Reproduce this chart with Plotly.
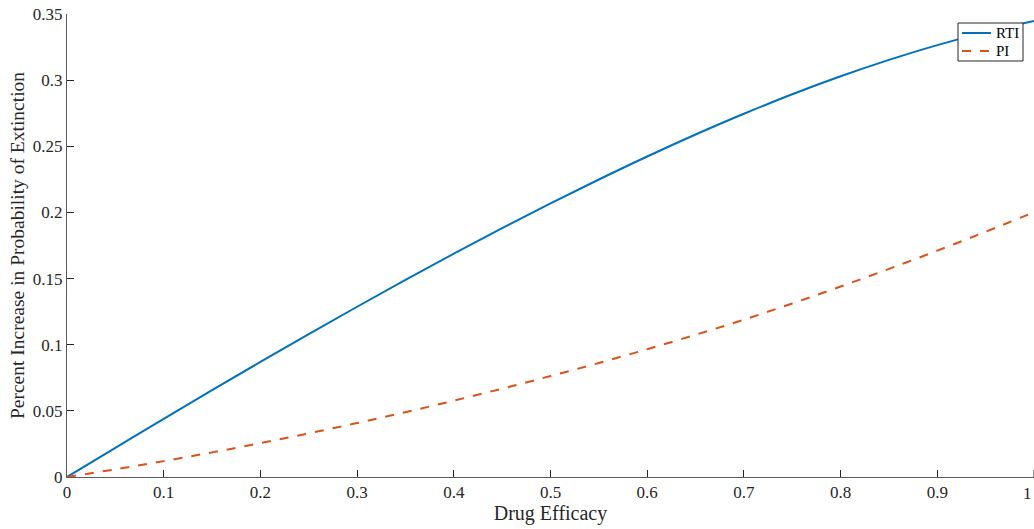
import plotly.graph_objects as go

efficacy = [0.0, 0.05, 0.1, 0.15, 0.2, 0.25, 0.3, 0.35, 0.4, 0.45, 0.5,
            0.55, 0.6, 0.65, 0.7, 0.75, 0.8, 0.85, 0.9, 0.95, 1.0]
rti = [0.0, 0.022, 0.044, 0.0657, 0.0870, 0.1080, 0.1287, 0.1490, 0.1688, 0.1881, 0.2068,
       0.2249, 0.2423, 0.2589, 0.2746, 0.2893, 0.3029, 0.3153, 0.3265, 0.3363, 0.3447]
pi = [0.0, 0.0058, 0.0120, 0.0186, 0.0256, 0.0330, 0.0408, 0.0490, 0.0577, 0.0668, 0.0763,
      0.0862, 0.0966, 0.1075, 0.1189, 0.1312, 0.1440, 0.1573, 0.1711, 0.1854, 0.2002]

series_names = ["RTI", "PI"]
series_colors = ["#0072BD", "#D95319"]
series_dash = ["solid", "dash"]

x_ticks = [0, 0.1, 0.2, 0.3, 0.4, 0.5, 0.6, 0.7, 0.8, 0.9, 1]
x_tick_labels = ["0", "0.1", "0.2", "0.3", "0.4", "0.5", "0.6", "0.7", "0.8", "0.9", "1"]
y_ticks = [0, 0.05, 0.1, 0.15, 0.2, 0.25, 0.3, 0.35]
y_tick_labels = ["0", "0.05", "0.1", "0.15", "0.2", "0.25", "0.3", "0.35"]

font = "Liberation Serif"
txt = "#262626"

W, H = 1034, 529
ML, MR, MT, MB = 67, 0, 14, 52
PW, PH = W - ML - MR, H - MT - MB


def px(xp):
    return (xp - ML) / PW


def py(yp):
    return (H - MB - yp) / PH


fig = go.Figure()
for name, ys, col, dash in zip(series_names, [rti, pi], series_colors, series_dash):
    fig.add_trace(go.Scatter(x=efficacy, y=ys, mode="lines", name=name, showlegend=False,
                             line=dict(color=col, width=2, dash=dash, shape="spline")))

axis_common = dict(showgrid=False, zeroline=False, showline=True, linecolor="#5a5a5a",
                   linewidth=1, ticks="inside", ticklen=7, tickcolor="#262626",
                   tickfont=dict(family=font, size=17, color=txt))

fig.update_layout(
    width=W, height=H,
    margin=dict(l=ML, r=MR, t=MT, b=MB),
    plot_bgcolor="white", paper_bgcolor="white",
    font=dict(family=font, color=txt),
    xaxis=dict(range=[0, 1], tickvals=x_ticks[:-1], ticktext=x_tick_labels[:-1],
               title=dict(text="Drug Efficacy", font=dict(family=font, size=20, color=txt), standoff=4),
               **axis_common),
    yaxis=dict(range=[0, 0.35], tickvals=y_ticks, ticktext=y_tick_labels,
               title=dict(text="Percent Increase in Probability of Extinction",
                          font=dict(family=font, size=19.5, color=txt), standoff=3),
               **axis_common),
    showlegend=False,
)

# last x tick label sits at the right page edge
fig.add_annotation(x=x_ticks[-1], y=0, xref="x", yref="paper", text=x_tick_labels[-1],
                   showarrow=False, xanchor="right", yanchor="top", yshift=-5,
                   font=dict(family=font, size=17, color=txt))
fig.add_shape(type="line", x0=x_ticks[-1], x1=x_ticks[-1], xref="x", yref="paper",
              y0=0, y1=7 / PH, line=dict(color="#262626", width=1))

# legend box (MATLAB style, compact)
fig.add_shape(type="rect", xref="paper", yref="paper",
              x0=px(958), x1=px(1023), y0=py(61), y1=py(23),
              line=dict(color="#262626", width=1), fillcolor="white", layer="above")
for i, (name, col, dash) in enumerate(zip(series_names, series_colors, series_dash)):
    yy = py(33 + 18 * i)
    fig.add_shape(type="line", xref="paper", yref="paper", x0=px(962), x1=px(991),
                  y0=yy, y1=yy, line=dict(color=col, width=2, dash=dash), layer="above")
    fig.add_annotation(x=px(994), y=yy, xref="paper", yref="paper", text=name,
                       showarrow=False, xanchor="left", yanchor="middle",
                       font=dict(family=font, size=15, color="#000000"))

fig.write_html("out.html")
